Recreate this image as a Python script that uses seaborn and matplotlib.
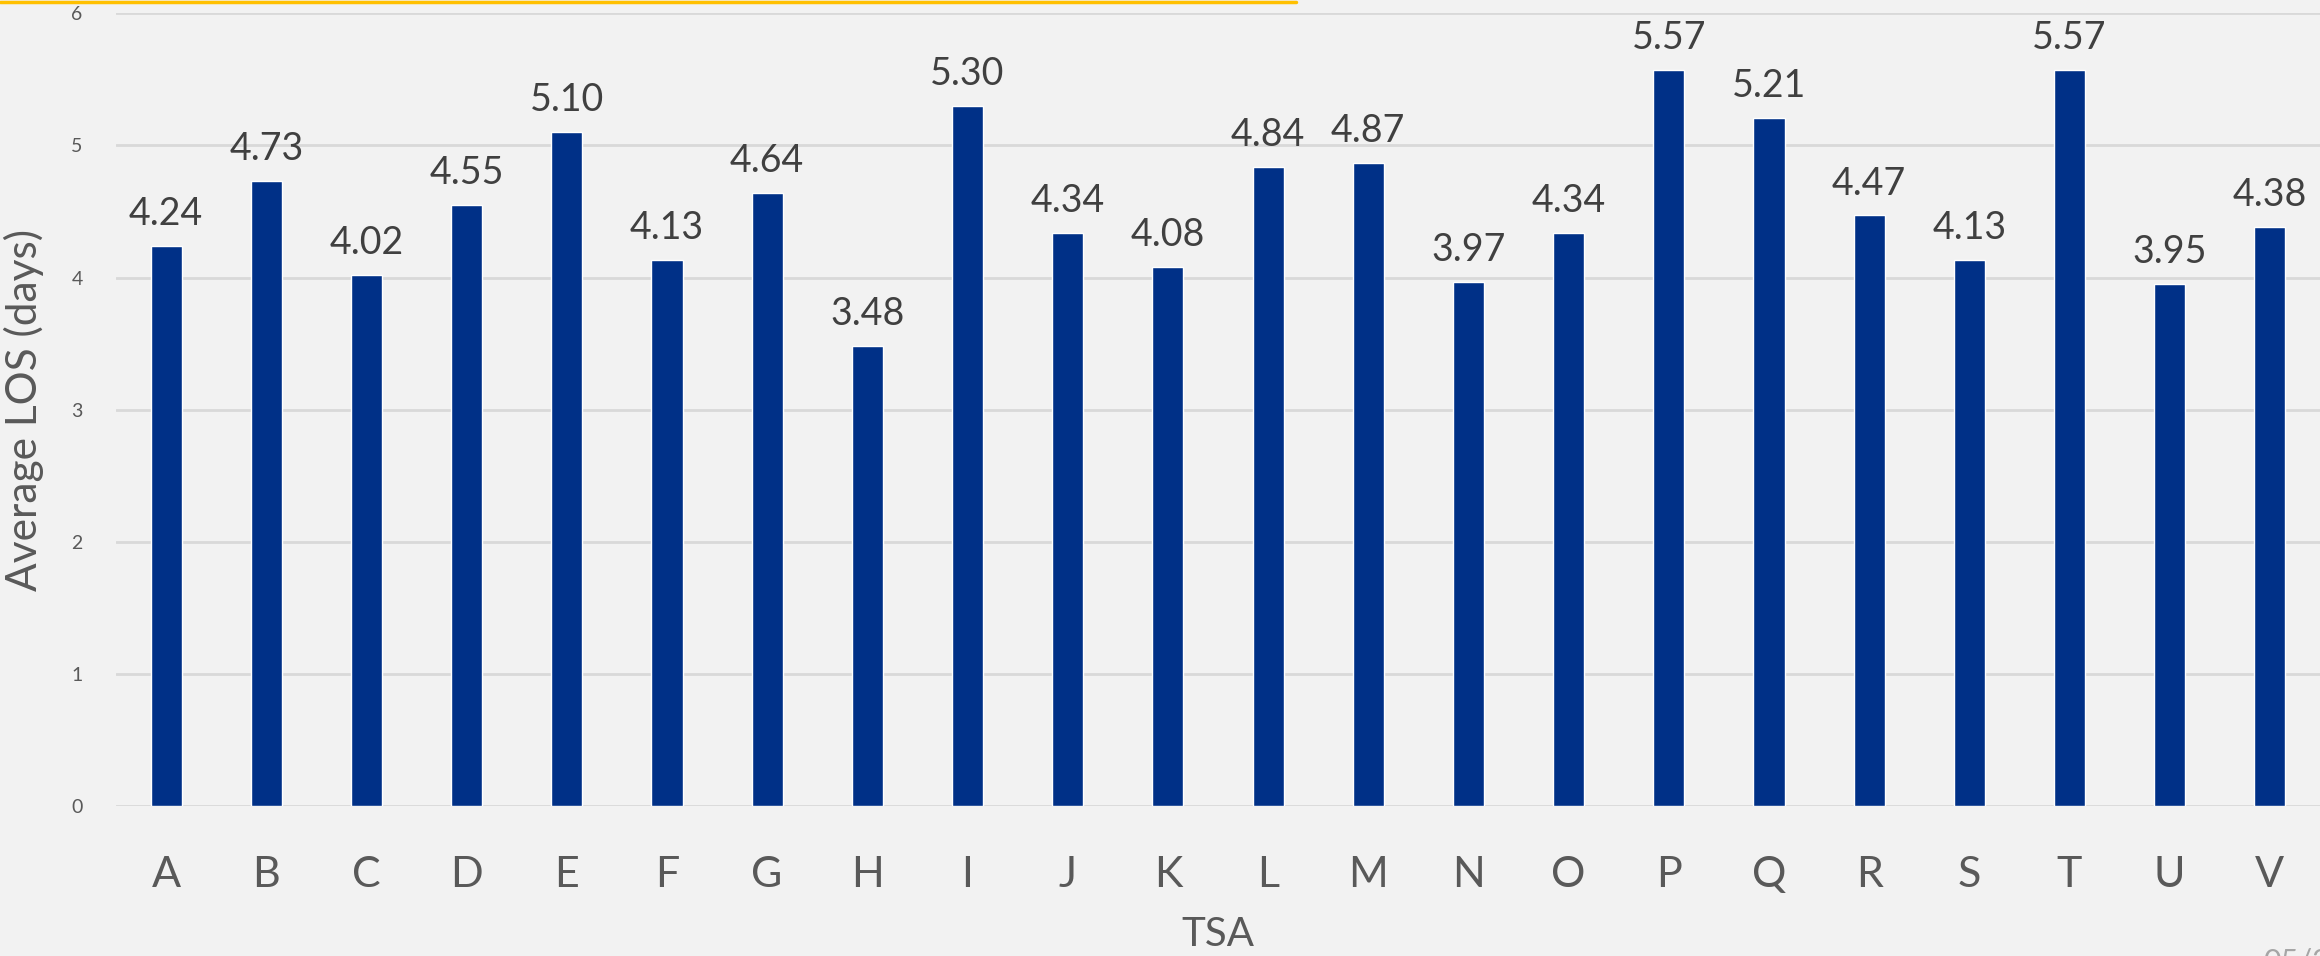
import matplotlib
matplotlib.use("Agg")
import matplotlib.pyplot as plt
import seaborn as sns
import pandas as pd
from matplotlib.lines import Line2D

categories = list("ABCDEFGHIJKLMNOPQRSTUV")
values = [4.24, 4.73, 4.02, 4.55, 5.10, 4.13, 4.64, 3.48, 5.30, 4.34, 4.08,
          4.84, 4.87, 3.97, 4.34, 5.57, 5.21, 4.47, 4.13, 5.57, 3.95, 4.38]
y_ticks = [0, 1, 2, 3, 4, 5, 6]

df = pd.DataFrame({"TSA": categories, "LOS": values})

sns.set_theme(style="white")
plt.rcParams["font.family"] = ["Lato", "DejaVu Sans"]

BG = "#F2F2F2"
fig = plt.figure(figsize=(23.2, 9.56), dpi=100, facecolor=BG)
ax = fig.add_axes([0.05, 0.157, 0.95, 0.829])
ax.set_facecolor(BG)

sns.barplot(data=df, x="TSA", y="LOS", color="#003087", saturation=1,
            width=0.31, ax=ax, zorder=3)

ax.set_ylim(0, 6)
ax.set_xlim(-0.5, len(categories) - 0.5)
ax.set_yticks(y_ticks)
ax.set_yticklabels([str(t) for t in y_ticks])
ax.yaxis.grid(True, color="#D9D9D9", linewidth=2, zorder=0)
ax.set_axisbelow(True)
for s in ax.spines.values():
    s.set_visible(False)

ax.tick_params(axis="y", length=0, pad=24, labelsize=14, labelcolor="#595959")
ax.tick_params(axis="x", length=0, pad=36, labelsize=31, labelcolor="#595959")

for i, v in enumerate(values):
    ax.annotate(f"{v:.2f}", (i, v), xytext=(0, 10), textcoords="offset points",
                ha="center", va="bottom", fontsize=27, color="#404040")

ax.set_xlabel("TSA", fontsize=29, color="#595959", labelpad=16)
ax.set_ylabel("Average LOS (days)", fontsize=30.5, color="#595959", labelpad=20)

fig.add_artist(Line2D([0, 1296 / 2320], [1 - 1.5 / 956, 1 - 1.5 / 956],
                      transform=fig.transFigure, color="#FFC000", linewidth=2.5))
fig.text(2263 / 2320, 1 - 947 / 956, "05/2", fontsize=22, color="#A6A6A6",
         ha="left", va="top")

fig.savefig("out.png", dpi=100, facecolor=BG)
